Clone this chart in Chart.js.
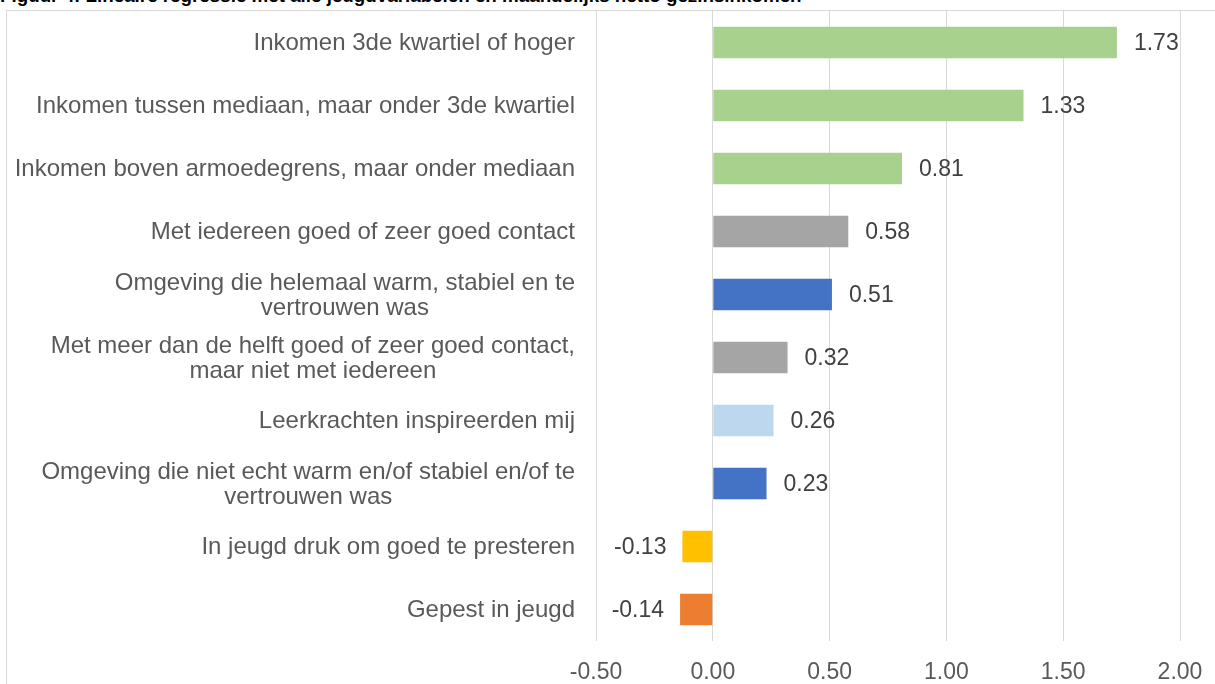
<!DOCTYPE html>
<html>
<head>
<meta charset="utf-8">
<script src="https://cdn.jsdelivr.net/npm/chart.js@4.4.1/dist/chart.umd.min.js"></script>
<style>
    html, body { margin: 0; padding: 0; background: #fff; overflow: hidden; }
    #title {
        position: absolute; left: 0; top: -15px; line-height: 1;
        font: bold 18.8px "Liberation Sans", Arial, sans-serif; color: #000; white-space: nowrap;
    }
    #frame {
        position: absolute; left: 6px; top: 10px; width: 1300px; height: 800px;
        border: 1px solid #d9d9d9; box-sizing: border-box;
    }
    #wrap { position: absolute; left: 0; top: 0; width: 1215px; height: 684px; }
</style>
</head>
<body>
<div id="title">Figuur 4: Lineaire regressie met alle jeugdvariabelen en maandelijks netto gezinsinkomen</div>
<div id="frame"></div>
<div id="wrap"><canvas id="chart" width="1215" height="684"></canvas></div>
<script>
const categories = [
    'Inkomen 3de kwartiel of hoger',
    'Inkomen tussen mediaan, maar onder 3de kwartiel',
    'Inkomen boven armoedegrens, maar onder mediaan',
    'Met iedereen goed of zeer goed contact',
    ['Omgeving die helemaal warm, stabiel en te', 'vertrouwen was'],
    ['Met meer dan de helft goed of zeer goed contact,', 'maar niet met iedereen'],
    'Leerkrachten inspireerden mij',
    ['Omgeving die niet echt warm en/of stabiel en/of te', 'vertrouwen was'],
    'In jeugd druk om goed te presteren',
    'Gepest in jeugd'
];
const values = [1.73, 1.33, 0.81, 0.58, 0.51, 0.32, 0.26, 0.23, -0.13, -0.14];
const barColors = ['#a9d18e', '#a9d18e', '#a9d18e', '#a5a5a5', '#4472c4', '#a5a5a5', '#bdd7ee', '#4472c4', '#ffc000', '#ed7d31'];
const xTicks = [-0.5, 0, 0.5, 1, 1.5, 2];

const FONT = '"Liberation Sans", Arial, sans-serif';

// categorie-labels: blok rechts uitgelijnd, regels onderling gecentreerd (zoals Excel)
const categoryLabels = {
    id: 'categoryLabels',
    afterDraw(chart) {
        const ctx = chart.ctx;
        const yAxis = chart.scales.y;
        const right = chart.chartArea.left - 21;
        const lineH = 25;
        ctx.save();
        ctx.font = '24px ' + FONT;
        ctx.fillStyle = '#595959';
        ctx.textBaseline = 'middle';
        ctx.textAlign = 'center';
        categories.forEach((lab, i) => {
            const lines = Array.isArray(lab) ? lab : [lab];
            const maxW = Math.max(...lines.map(l => ctx.measureText(l).width));
            const cx = right - maxW / 2;
            const y0 = yAxis.getPixelForTick(i) + 1 - (lines.length - 1) * lineH / 2;
            lines.forEach((l, k) => ctx.fillText(l, cx, y0 + k * lineH));
        });
        ctx.restore();
    }
};

// waarde naast elke balk
const valueLabels = {
    id: 'valueLabels',
    afterDatasetsDraw(chart) {
        const ctx = chart.ctx;
        const meta = chart.getDatasetMeta(0);
        ctx.save();
        ctx.font = '23px ' + FONT;
        ctx.fillStyle = '#404040';
        ctx.textBaseline = 'middle';
        meta.data.forEach((bar, i) => {
            const v = values[i];
            const txt = v.toFixed(2);
            if (v >= 0) {
                ctx.textAlign = 'left';
                ctx.fillText(txt, bar.x + 17, bar.y + 1);
            } else {
                ctx.textAlign = 'right';
                ctx.fillText(txt, bar.x - 16, bar.y + 1);
            }
        });
        ctx.restore();
    }
};

new Chart(document.getElementById('chart'), {
    type: 'bar',
    data: {
        labels: categories,
        datasets: [{
            data: values,
            backgroundColor: barColors,
            barPercentage: 0.5,
            categoryPercentage: 1.0
        }]
    },
    options: {
        indexAxis: 'y',
        responsive: false,
        animation: false,
        layout: { padding: { top: 11, right: 35, left: 0, bottom: 0 } },
        plugins: {
            legend: { display: false },
            tooltip: { enabled: false }
        },
        scales: {
            x: {
                min: -0.5,
                max: 2.0,
                afterBuildTicks: axis => { axis.ticks = xTicks.map(v => ({ value: v })); },
                afterFit: axis => { axis.height = 43; axis.paddingLeft = 0; axis.paddingRight = 0; },
                grid: { color: '#d9d9d9', lineWidth: 1, drawTicks: false },
                border: { display: false },
                ticks: {
                    padding: 18,
                    color: '#595959',
                    font: { family: FONT, size: 23 },
                    callback: v => Number(v).toFixed(2)
                }
            },
            y: {
                afterFit: axis => { axis.width = 596; axis.paddingTop = 0; axis.paddingBottom = 0; },
                grid: { display: false, drawTicks: false },
                border: { display: false },
                ticks: { display: false }
            }
        }
    },
    plugins: [valueLabels, categoryLabels]
});
</script>
</body>
</html>
